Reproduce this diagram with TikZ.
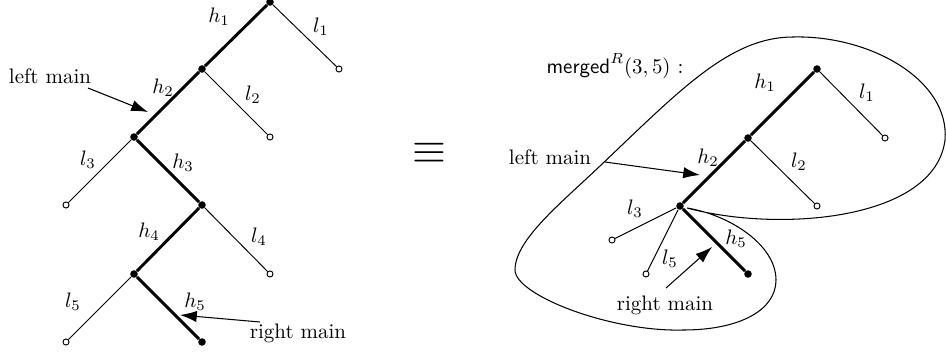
\documentclass[tikz,border=0pt]{standalone}
\usepackage{amsmath}
\usepackage{tikz}
\usetikzlibrary{arrows.meta}
\tikzset{
  inner/.style={circle,fill=black,inner sep=0pt,minimum size=3.6pt},
  leaf/.style={circle,draw=black,line width=0.45pt,fill=white,inner sep=0pt,minimum size=2.9pt},
  mainedge/.style={line width=1.4pt},
  leafedge/.style={line width=0.45pt},
  elab/.style={inner sep=1pt},
  pointer/.style={line width=0.5pt,-{Latex[length=8pt,width=5.4pt]}},
  blob/.style={line width=0.5pt},
}

\begin{document}
\begin{tikzpicture}[x=0.477pt,y=-0.477pt]
  \useasboundingbox (0,0) rectangle (946,356);
  % --- left: the original tree ---
  \node[inner](a1) at (270,2){};
  \node[inner](a2) at (202,69){};
  \node[inner](a3) at (134,137){};
  \node[inner](a4) at (202,205){};
  \node[inner](a5) at (134,274){};
  \node[inner](a6) at (202,342){};
  \node[leaf](p1) at (339,69){};
  \node[leaf](p2) at (270,137){};
  \node[leaf](p3) at (66,205){};
  \node[leaf](p4) at (270,274){};
  \node[leaf](p5) at (66,342){};
  \foreach \x/\y in {a1/a2,a2/a3,a3/a4,a4/a5,a5/a6} \draw[mainedge](\x)--(\y);
  \foreach \x/\y in {a1/p1,a2/p2,a3/p3,a4/p4,a5/p5} \draw[leafedge](\x)--(\y);
  \node[elab](lh1) at (219,17){$h_1$};
  \node[elab](ll1) at (321,27){$l_1$};
  \node[elab](lh2) at (163,88){$h_2$};
  \node[elab](ll2) at (253,95){$l_2$};
  \node[elab](ll3) at (88,160){$l_3$};
  \node[elab](lh3) at (183,163){$h_3$};
  \node[elab](lh4) at (149,232){$h_4$};
  \node[elab](ll4) at (259,237){$l_4$};
  \node[elab](ll5) at (73,302){$l_5$};
  \node[elab](lh5) at (195,302){$h_5$};
  \node(lleft) at (50,76){left main};
  \node(lright) at (298,333){right main};
  \coordinate (lls) at (88,88);   \coordinate (llt) at (148,112);
  \coordinate (lrs) at (260,322); \coordinate (lrt) at (180,315);
  \draw[pointer](lls)--(llt);
  \draw[pointer](lrs)--(lrt);
  % --- middle ---
  \node(eqv) at (429,153){\fontsize{21}{24}\selectfont$\equiv$};
  % --- right: the merged tree ---
  \node[inner](b1) at (817,69){};
  \node[inner](b2) at (748,138){};
  \node[inner](b3) at (680,206){};
  \node[inner](b5) at (748,274){};
  \node[leaf](q1) at (885,138){};
  \node[leaf](q2) at (817,206){};
  \node[leaf](q3) at (612,240){};
  \node[leaf](q5) at (646,274){};
  \foreach \x/\y in {b1/b2,b2/b3,b3/b5} \draw[mainedge](\x)--(\y);
  \foreach \x/\y in {b1/q1,b2/q2,b3/q3,b3/q5} \draw[leafedge](\x)--(\y);
  \node[elab](rh1) at (765,83){$h_1$};
  \node[elab](rl1) at (867,93){$l_1$};
  \node[elab](rh2) at (708,158){$h_2$};
  \node[elab](rl2) at (799,162){$l_2$};
  \node[elab](rl3) at (635,209){$l_3$};
  \node[elab](rh5) at (736,239){$h_5$};
  \node[elab](rl5) at (670,259){$l_5$};
  \node(merged) at (615,66){$\textsf{merged}^R(3,5)$ :};
  \node(rleft) at (550,157){left main};
  \node(rright) at (665,305){right main};
  \coordinate (rls) at (605,162); \coordinate (rlt) at (700,175);
  \coordinate (rrs) at (666,288); \coordinate (rrt) at (712,247);
  \draw[pointer](rls)--(rlt);
  \draw[pointer](rrs)--(rrt);
  % the merged region
  \coordinate (cusp) at (687,208);
  \draw[blob] (cusp) .. controls (780,233) and (935,220) .. (945,140)
    .. controls (950,80) and (870,35) .. (793,37)
    .. controls (730,37) and (680,90) .. (600,166)
    .. controls (560,204) and (515,240) .. (515,270)
    .. controls (515,295) and (610,332) .. (683,330)
    .. controls (740,330) and (776,310) .. (776,280)
    .. controls (776,245) and (730,215) .. (cusp);
\end{tikzpicture}
\end{document}
